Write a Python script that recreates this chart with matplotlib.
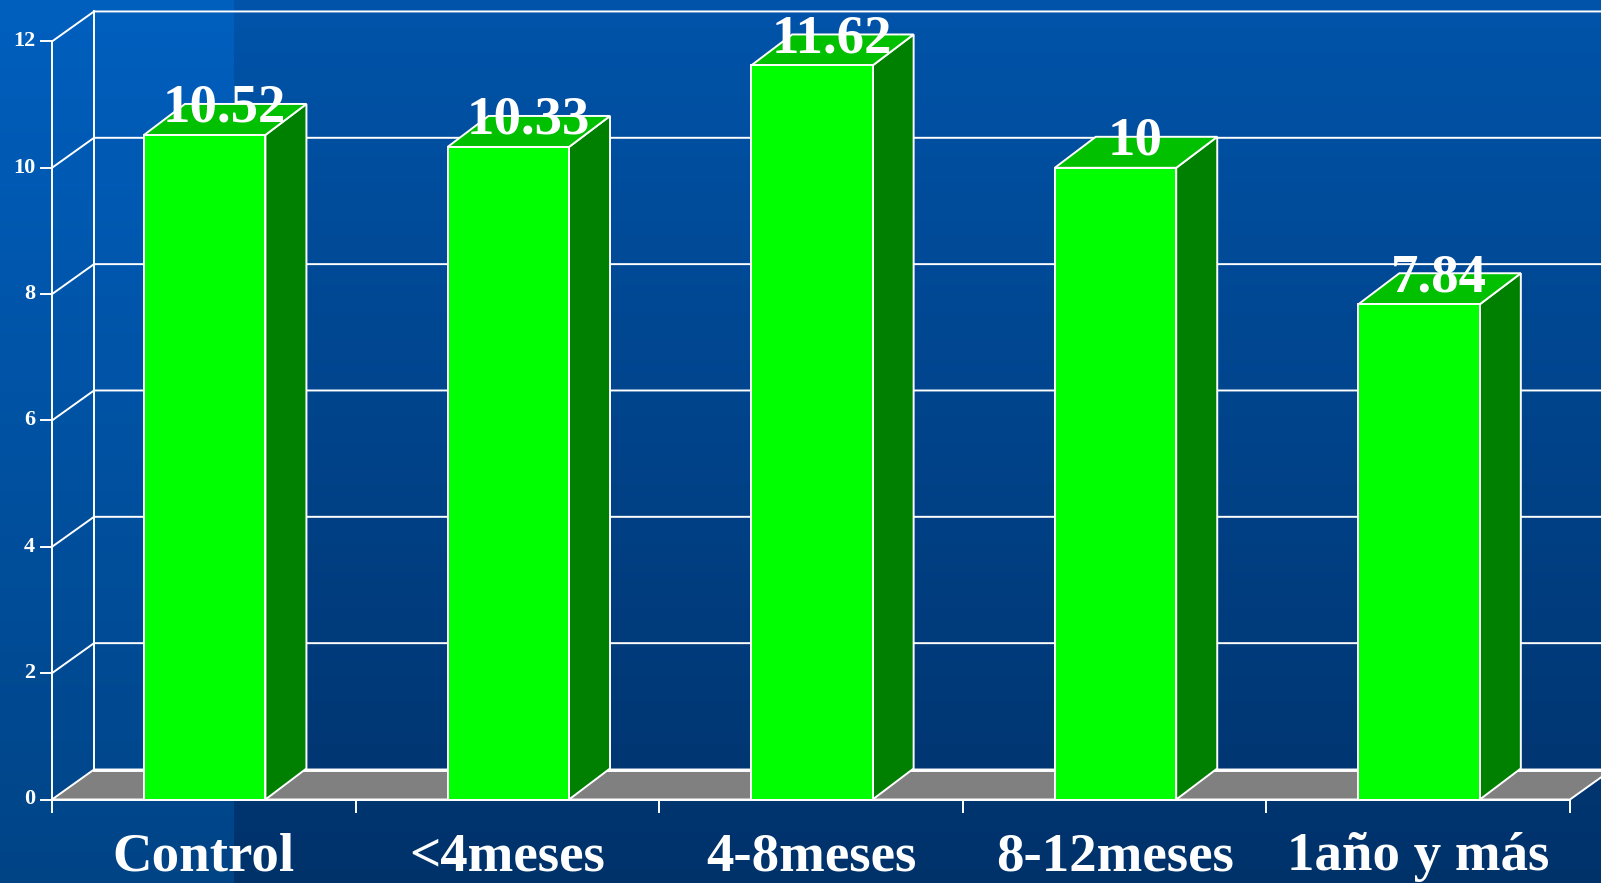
import numpy as np
import matplotlib
matplotlib.use("Agg")
import matplotlib.pyplot as plt
from matplotlib.patches import Polygon
from matplotlib.transforms import ScaledTranslation

plt.rcParams['font.family'] = ['Liberation Serif', 'DejaVu Serif']

categories = ["Control", "<4meses", "4-8meses", "8-12meses", "1año y más"]
values = [10.52, 10.33, 11.62, 10, 7.84]
value_labels = ["10.52", "10.33", "11.62", "10", "7.84"]
y_ticks = [0, 2, 4, 6, 8, 10, 12]

WHITE = "#ffffff"
LW = 1.4
# depth of the fake 3d walls and of the bars, in data units
WALL_DX = 42 / 303.6
WALL_DY = 30 / 63.17
BAR_DX = 41 / 303.6
BAR_DY = 31 / 63.17
BAR_W = 0.40

fig = plt.figure(figsize=(16.01, 8.83), dpi=100)
ax = fig.add_axes([0, 0, 1, 1])
xlim = (-52 / 303.6, (1601 - 52) / 303.6)
ylim = ((799.5 - 883) / 63.17, 799.5 / 63.17)

# background, vertical gradient with lighter strip on the left
h, w = 883, 1601
t = np.linspace(0, 1, h)[:, None]
top = np.array([0, 84, 170]) / 255
bottom = np.array([0, 50, 106]) / 255
bg = np.zeros((h, w, 3))
for c in range(3):
    bg[:, :, c] = top[c] + (bottom[c] - top[c]) * t
strip_top = np.array([0, 95, 190]) / 255
strip_bottom = np.array([0, 68, 134]) / 255
for c in range(3):
    bg[:, :234, c] = (strip_top[c] + (strip_bottom[c] - strip_top[c]) * t)
ax.imshow(bg, extent=(xlim[0], xlim[1], ylim[0], ylim[1]), aspect="auto", zorder=0, origin="upper")

# floor
far = 5 + WALL_DX
ax.add_patch(Polygon([(0, 0), (WALL_DX, WALL_DY), (far, WALL_DY), (5, 0)],
                     closed=True, facecolor="#808080", edgecolor=WHITE, lw=LW, zorder=1))
ax.plot([WALL_DX, far], [WALL_DY, WALL_DY], color=WHITE, lw=LW * 1.5, zorder=1.1)

# gridlines on back wall and side wall
for v in y_ticks[1:]:
    ax.plot([0, WALL_DX, far], [v, v + WALL_DY, v + WALL_DY], color=WHITE, lw=LW, zorder=1)
ax.plot([WALL_DX, WALL_DX], [WALL_DY, 12 + WALL_DY], color=WHITE, lw=LW, zorder=1)

# bars
xs = [i + 0.503 for i in range(len(values))]
ax.bar(xs, values, width=BAR_W, color="#00ff00", edgecolor=WHITE, linewidth=LW, zorder=3)
for x, v, lab in zip(xs, values, value_labels):
    l, r = x - BAR_W / 2, x + BAR_W / 2
    ax.add_patch(Polygon([(r, 0), (r + BAR_DX, BAR_DY), (r + BAR_DX, v + BAR_DY), (r, v)],
                         closed=True, facecolor="#008000", edgecolor=WHITE, lw=LW, zorder=2))
    ax.add_patch(Polygon([(l, v), (l + BAR_DX, v + BAR_DY), (r + BAR_DX, v + BAR_DY), (r, v)],
                         closed=True, facecolor="#00c000", edgecolor=WHITE, lw=LW, zorder=2))
    ax.text(x + 40 / 303.6 / 2, v + 13 / 63.17, lab, color=WHITE, fontsize=39.5, fontweight="bold",
            ha="center", va="baseline", zorder=5)

# axes
ax.set_xlim(xlim)
ax.set_ylim(ylim)
for s in ["top", "right"]:
    ax.spines[s].set_visible(False)
ax.spines["left"].set_position(("data", 0))
ax.spines["bottom"].set_position(("data", 0))
ax.spines["left"].set_bounds(0, 12)
ax.spines["bottom"].set_bounds(0, 5)
for s in ["left", "bottom"]:
    ax.spines[s].set_color(WHITE)
    ax.spines[s].set_linewidth(LW)
    ax.spines[s].set_zorder(4)

ax.set_yticks(y_ticks)
ax.set_yticklabels([str(v) for v in y_ticks], fontsize=16, fontweight="bold", color=WHITE)
ax.tick_params(axis="y", direction="out", length=8.6, width=LW, color=WHITE, pad=3.5)
# labels sit a little above their ticks
up = ScaledTranslation(0, 2 / 72, fig.dpi_scale_trans)
for lb in ax.get_yticklabels():
    lb.set_transform(lb.get_transform() + up)

ax.set_xticks(range(6))
ax.set_xticklabels([""] * 6)
ax.set_xticks([i + 0.5 for i in range(5)], minor=True)
ax.set_xticklabels(categories, minor=True, fontsize=39.5, fontweight="bold", color=WHITE)
ax.tick_params(axis="x", which="major", direction="out", length=9.4, width=LW, color=WHITE)
ax.tick_params(axis="x", which="minor", length=0, pad=23.5)

fig.savefig("out.png", dpi=100)
